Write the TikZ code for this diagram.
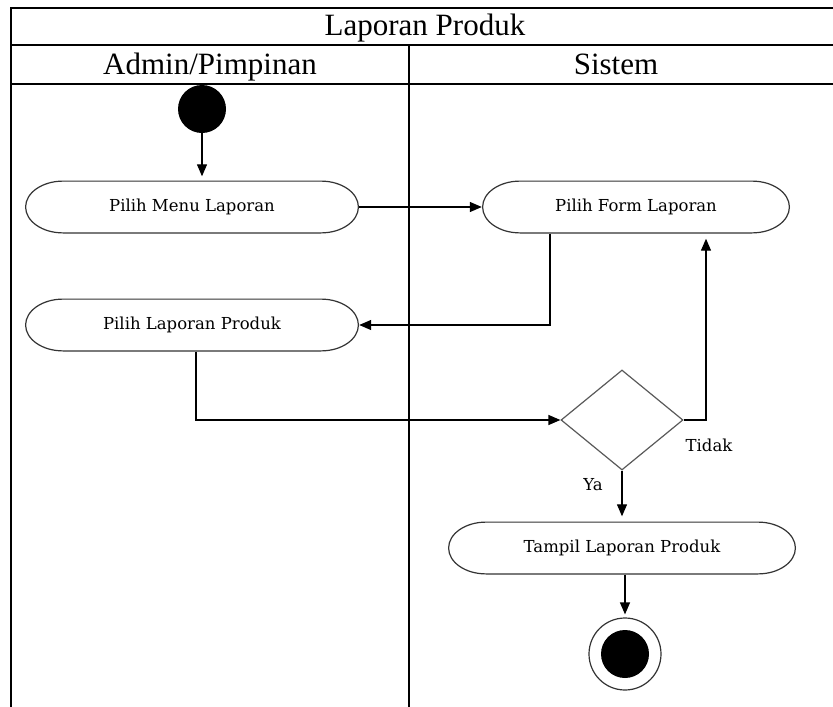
\documentclass[tikz,border=0pt]{standalone}
\usepackage{fontspec}
\setmainfont{Liberation Serif}
\newfontfamily\actfont{DejaVu Serif}
\usetikzlibrary{arrows.meta,shapes.geometric,calc}

\begin{document}
\begin{tikzpicture}[x=1pt,y=-1pt,
  frame/.style={line width=2pt, draw=black},
  title/.style={font=\fontsize{31}{36}\selectfont, anchor=base, inner sep=0pt},
  act/.style={minimum width=#1, minimum height=53pt, inner sep=0pt,
    font=\actfont\fontsize{16.5}{19}\selectfont,
    path picture={
      \draw[line width=1.2pt, draw=black!80]
        let \p1=(path picture bounding box.north west),
            \p2=(path picture bounding box.south east),
            \n1={(\y1-\y2)/2-0.6pt}
        in (\x1+38pt,\y1-0.6pt) -- (\x2-38pt,\y1-0.6pt)
           arc[start angle=90,end angle=-90,x radius=37.4pt,y radius=\n1]
           -- (\x1+38pt,\y2+0.6pt)
           arc[start angle=270,end angle=90,x radius=37.4pt,y radius=\n1]
           -- cycle;
    }},
  decision/.style={diamond, draw=black!65, line width=1.2pt, minimum width=122pt,
    minimum height=100pt, inner sep=0pt},
  startdot/.style={circle, fill=black, minimum size=48pt, inner sep=0pt},
  endring/.style={circle, draw=black!80, line width=1.2pt, minimum size=72pt, inner sep=0pt},
  lbl/.style={font=\actfont\fontsize{16.5}{19}\selectfont, inner sep=0pt},
  flow/.style={line width=1.3pt, -{Triangle[length=12pt,width=10pt]}}
]
\useasboundingbox (0,0) rectangle (833,707);

% swimlane frame
\draw[frame] (11,707) -- (11,8) -- (833,8);
\draw[frame] (11,45) -- (833,45);
\draw[frame] (11,84) -- (833,84);
\draw[frame] (409,45) -- (409,707);

\node[title] (ttl) at (425,35) {Laporan Produk};
\node[title] (laneA) at (210,74) {Admin/Pimpinan};
\node[title] (laneB) at (616,74) {Sistem};

% activities
\node[startdot] (start) at (202,109) {};
\node[act=334pt] (pml) at (192,207) {Pilih Menu Laporan};
\node[act=308pt] (pfl) at (636,207) {Pilih Form Laporan};
\node[act=334pt] (plp) at (192,325) {Pilih Laporan Produk};
\node[decision] (dec) at (622,420) {};
\node[act=348pt] (tlp) at (622,548) {Tampil Laporan Produk};
\node[endring] (end) at (625,654) {};
\node[startdot] (endcore) at (end) {};

\node[lbl] (tidak) at (709,445) {Tidak};
\node[lbl] (ya) at (593,485) {Ya};

% transitions
\draw[flow, shorten >=4pt] (start) -- (start |- pml.north);
\draw[flow] (pml) -- (pfl);
\draw[flow] ([xshift=-86pt]pfl.south) |- (plp.east);
\draw[flow] ([xshift=4pt]plp.south) |- (dec.west);
\draw[flow, shorten >=5pt] (dec.east) -| ([xshift=70pt]pfl.south);
\draw[flow, shorten >=5pt] (dec.south) -- (tlp.north);
\draw[flow, shorten >=3pt] (tlp.south -| end) -- (end.north);
\end{tikzpicture}
\end{document}
